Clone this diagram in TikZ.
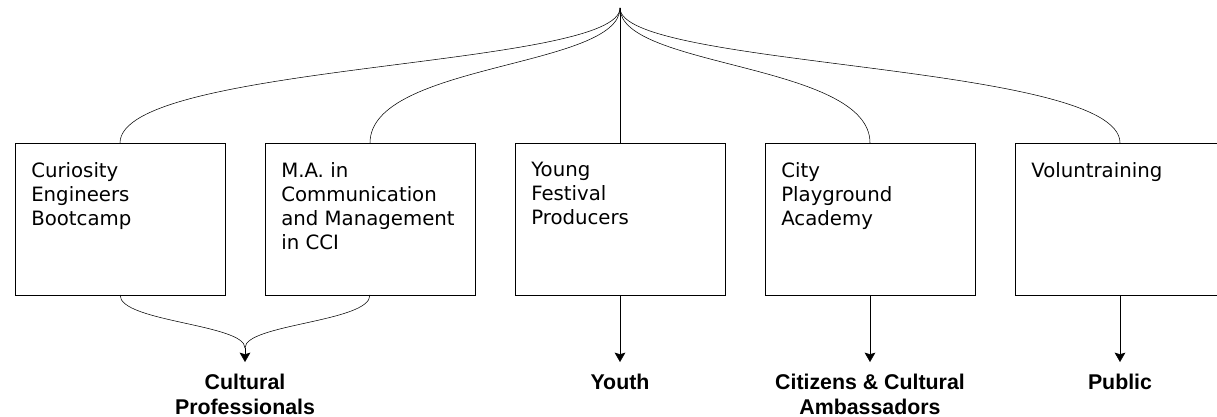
\documentclass[tikz,border=0pt]{standalone}
\usepackage{fontspec}
\setmainfont{DejaVu Sans}
\newfontfamily\audfont{Liberation Sans}
\usetikzlibrary{positioning, arrows.meta}
\tikzset{x=0.75pt, y=0.75pt, line width=0.7pt, >={Stealth[length=7pt, width=8pt, inset=1.2pt]}}
\tikzset{
    course/.style={draw, rectangle, minimum width=157.5pt, minimum height=114pt, inner sep=0pt, outer sep=0pt},
    coursetext/.style={anchor=north west, align=left, inner sep=0pt, font=\fontsize{14.8pt}{18pt}\selectfont},
    audience/.style={anchor=north, align=center, inner sep=0pt, inner ysep=9pt, font=\audfont\bfseries\fontsize{16pt}{18.5pt}\selectfont}
}

\begin{document}
\begin{tikzpicture}
    \useasboundingbox (0,0) rectangle (1217,-417);
    \coordinate (top) at (620,-8);

    % programmes
    \node[course, anchor=north west] (curiosity) at (15,-143) {};
    \node[course, right=30pt of curiosity] (master) {};
    \node[course, right=30pt of master] (young) {};
    \node[course, right=30pt of young] (city) {};
    \node[course, right=30pt of city] (volun) {};

    \node[coursetext] (curiositytext) at ([shift={(16,-19)}]curiosity.north west) {Curiosity\\Engineers\\Bootcamp};
    \node[coursetext] (mastertext) at ([shift={(16,-19)}]master.north west) {M.A. in\\Communication\\and Management\\in CCI};
    \node[coursetext] (youngtext) at ([shift={(16,-19)}]young.north west) {Young\\Festival\\Producers};
    \node[coursetext] (citytext) at ([shift={(16,-19)}]city.north west) {City\\Playground\\Academy};
    \node[coursetext] (voluntext) at ([shift={(16,-19)}]volun.north west) {Voluntraining};

    % branches from the top
    \draw (top) .. controls +(0,-60) and +(0,80) .. (curiosity.north);
    \draw (top) .. controls +(0,-60) and +(0,80) .. (master.north);
    \draw (top) -- (young.north);
    \draw (top) .. controls +(0,-60) and +(0,80) .. (city.north);
    \draw (top) .. controls +(0,-60) and +(0,80) .. (volun.north);

    % audiences
    \node[audience] (professionals) at (245,-362) {Cultural\\Professionals};
    \node[audience] (youth) at (620,-362) {Youth};
    \node[audience] (citizens) at (870,-362) {Citizens \& Cultural\\Ambassadors};
    \node[audience] (public) at (1120,-362) {Public};

    \coordinate (merge) at (245,-348);
    \draw (curiosity.south) .. controls +(0,-27) and +(0,24) .. (merge);
    \draw (master.south) .. controls +(0,-27) and +(0,24) .. (merge);
    \draw[->] (merge) -- (professionals);
    \draw[->] (young.south) -- (youth);
    \draw[->] (city.south) -- (citizens);
    \draw[->] (volun.south) -- (public);
\end{tikzpicture}
\end{document}
